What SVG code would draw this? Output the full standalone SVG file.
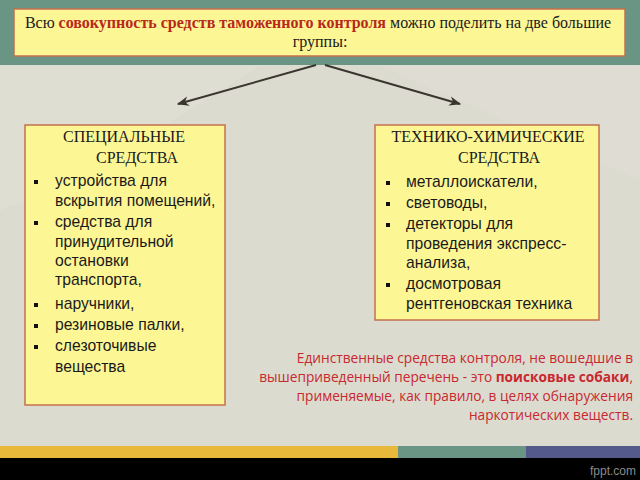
<svg xmlns="http://www.w3.org/2000/svg" width="640" height="480" viewBox="0 0 640 480">
<defs>
<style>
.serif{font-family:"Liberation Serif","Times New Roman",serif;fill:#1a1a1a}
.sans{font-family:"Liberation Sans",Arial,sans-serif;font-size:15.7px;fill:#1a1a1a}
.box{fill:#fdf695;stroke:#c4704c;stroke-width:1.5}
.note{font-family:"Open Sans","DejaVu Sans",sans-serif;font-size:13.7px;fill:#c8282e;text-anchor:end}
.bul{fill:#111}
</style>
<marker id="ah" viewBox="0 0 10 10" refX="9" refY="5" markerWidth="6" markerHeight="6" orient="auto" markerUnits="strokeWidth">
<path d="M0,1 L10,5 L0,9 L3,5 z" fill="#3a362f"/>
</marker>
</defs>
<rect x="0" y="0" width="640" height="480" fill="#dcdbd0"/>
<polygon points="0,66 260,66 60,190 0,210" fill="#e1e0d6" opacity="0.6"/>
<polygon points="380,66 640,66 640,180" fill="#e1e0d6" opacity="0.5"/>
<rect x="0" y="0" width="640" height="65" fill="#6a9484"/>
<rect x="0" y="446" width="398" height="12" fill="#e8b83a"/>
<rect x="398" y="446" width="128" height="12" fill="#6a9484"/>
<rect x="526" y="446" width="114" height="12" fill="#545a8c"/>
<rect x="0" y="458" width="640" height="22" fill="#000"/>
<text x="636" y="475" font-family="'Liberation Sans',Arial,sans-serif" font-size="12" fill="#8a8a8a" text-anchor="end">fppt.com</text>

<g id="header">
<rect class="box" x="14" y="9" width="611" height="47"/>
<text class="serif" x="318" y="28" font-size="16" text-anchor="middle">Всю <tspan fill="#b8281c" font-weight="bold">совокупность средств таможенного контроля</tspan> можно поделить на две большие</text>
<text class="serif" x="320" y="47" font-size="16" text-anchor="middle">группы:</text>
</g>

<g id="connectors" stroke="#3a362f" stroke-width="2" fill="none">
<line x1="316" y1="65" x2="178" y2="104" marker-end="url(#ah)"/>
<line x1="325" y1="65" x2="460" y2="104" marker-end="url(#ah)"/>
</g>

<g id="special">
<rect class="box" x="25" y="125" width="200" height="280"/>
<text class="serif" x="124" y="142" font-size="16" text-anchor="middle">СПЕЦИАЛЬНЫЕ</text>
<text class="serif" x="137" y="163" font-size="16" text-anchor="middle">СРЕДСТВА</text>
<rect class="bul" x="34" y="180" width="4" height="4"/>
<rect class="bul" x="34" y="221" width="4" height="4"/>
<rect class="bul" x="34" y="303" width="4" height="4"/>
<rect class="bul" x="34" y="324" width="4" height="4"/>
<rect class="bul" x="34" y="345" width="4" height="4"/>
<text class="sans" x="55" y="186">устройства для</text>
<text class="sans" x="55" y="206">вскрытия помещений,</text>
<text class="sans" x="55" y="227">средства для</text>
<text class="sans" x="55" y="247">принудительной</text>
<text class="sans" x="55" y="266">остановки</text>
<text class="sans" x="55" y="285">транспорта,</text>
<text class="sans" x="55" y="309">наручники,</text>
<text class="sans" x="55" y="330">резиновые палки,</text>
<text class="sans" x="55" y="351">слезоточивые</text>
<text class="sans" x="55" y="372">вещества</text>
</g>

<g id="techchem">
<rect class="box" x="375" y="125" width="224" height="195"/>
<text class="serif" x="488" y="142" font-size="16" text-anchor="middle">ТЕХНИКО-ХИМИЧЕСКИЕ</text>
<text class="serif" x="499" y="163" font-size="16" text-anchor="middle">СРЕДСТВА</text>
<rect class="bul" x="386" y="181" width="4" height="4"/>
<rect class="bul" x="386" y="202" width="4" height="4"/>
<rect class="bul" x="386" y="223" width="4" height="4"/>
<rect class="bul" x="386" y="283" width="4" height="4"/>
<text class="sans" x="406" y="187">металлоискатели,</text>
<text class="sans" x="406" y="208">световоды,</text>
<text class="sans" x="406" y="229">детекторы для</text>
<text class="sans" x="406" y="249">проведения экспресс-</text>
<text class="sans" x="406" y="268">анализа,</text>
<text class="sans" x="406" y="289">досмотровая</text>
<text class="sans" x="406" y="309">рентгеновская техника</text>
</g>

<g id="note">
<text class="note" x="633" y="363">Единственные средства контроля, не вошедшие в</text>
<text class="note" x="633" y="382">вышеприведенный перечень - это <tspan font-weight="bold">поисковые собаки</tspan>,</text>
<text class="note" x="633" y="401">применяемые, как правило, в целях обнаружения</text>
<text class="note" x="633" y="420">наркотических веществ.</text>
</g>
</svg>
